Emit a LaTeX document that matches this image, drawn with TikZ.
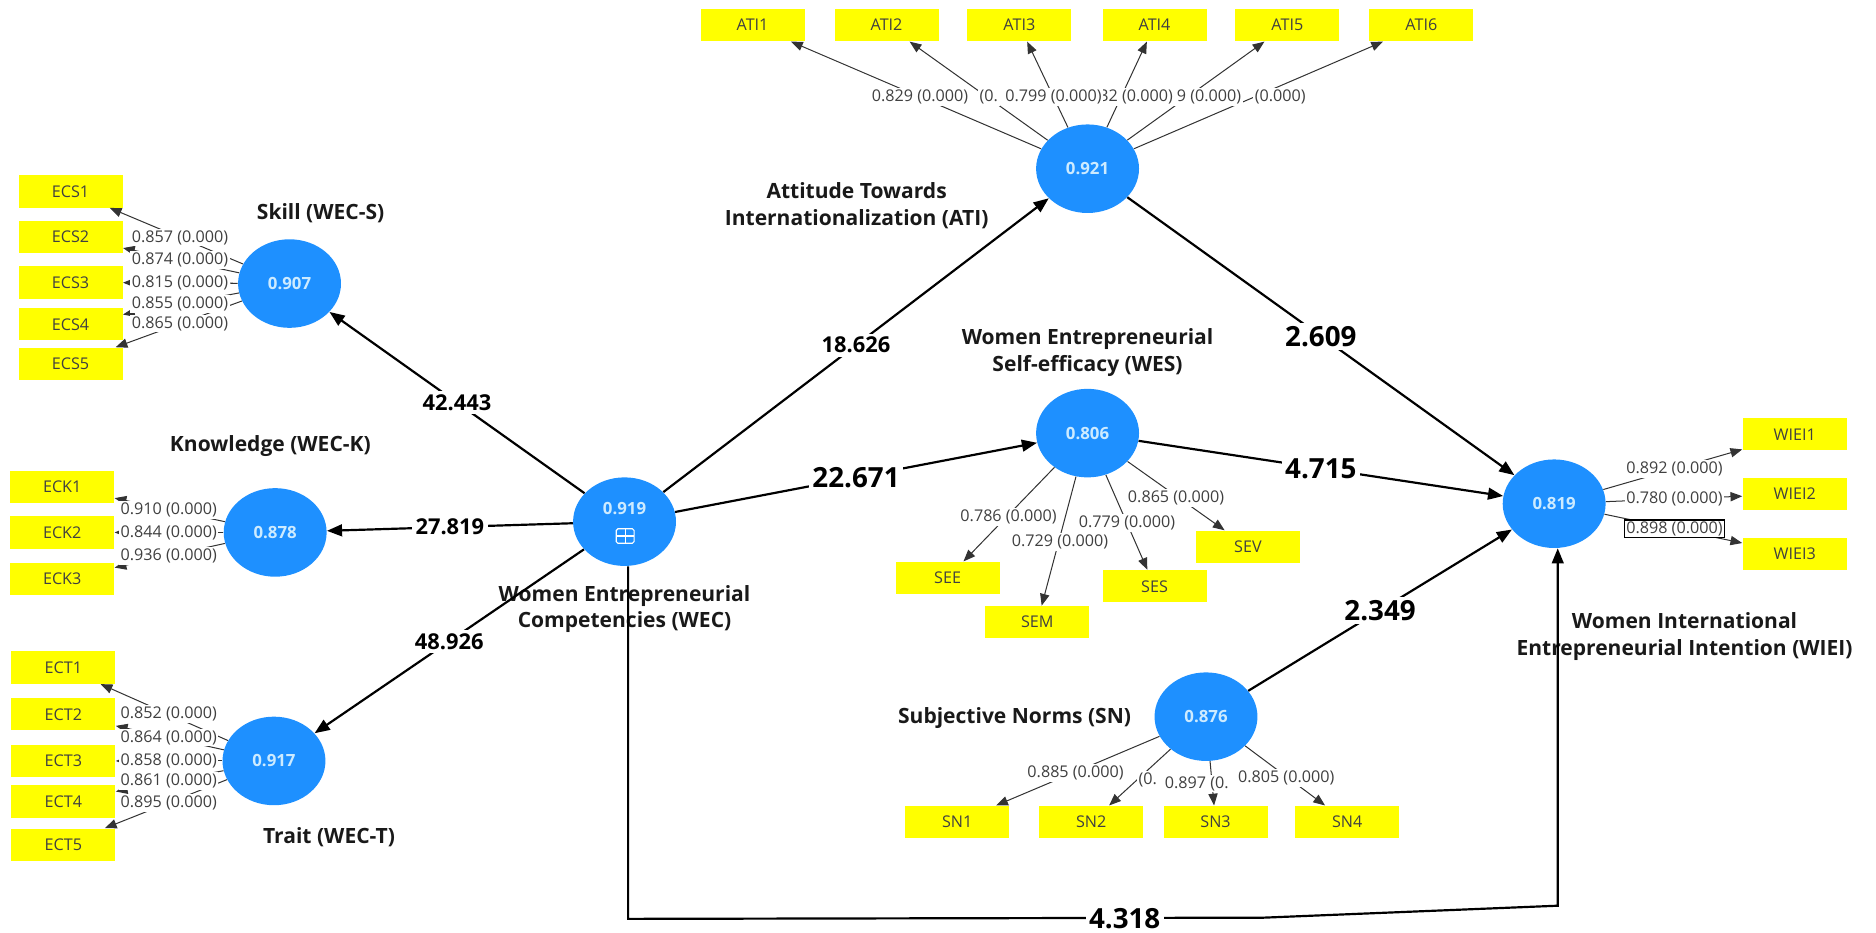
\documentclass[tikz,border=0pt]{standalone}
\usepackage{fontspec}
\setmainfont{Open Sans}
\usetikzlibrary{arrows.meta, shapes.geometric, calc}
\definecolor{plsblue}{RGB}{30,144,255}
\definecolor{plsyellow}{RGB}{255,255,0}
\definecolor{plsvalue}{RGB}{205,235,255}

\begin{document}
\begin{tikzpicture}[x=0.025cm, y=-0.025cm,
		construct/.style={ellipse, fill=plsblue, minimum width=2.15cm, minimum height=1.85cm, inner sep=0pt, text=plsvalue, font=\bfseries\fontsize{10}{12}\selectfont},
		indicator/.style={rectangle, fill=plsyellow, minimum width=2.175cm, minimum height=0.675cm, inner sep=0pt, text=black!75, font=\fontsize{9.6}{11}\selectfont},
		ctitle/.style={align=center, text=black!90, font=\bfseries\fontsize{12.5}{16}\selectfont},
		loading/.style={draw=black!80, line width=0.6pt, -{Triangle[length=7pt, width=5.5pt]}},
		structural/.style={draw=black, line width=1.3pt, -{Triangle[length=9pt, width=7pt]}},
		lbl/.style={fill=white, inner sep=1pt, text=black!75, font=\fontsize{9.6}{11}\selectfont},
		coef/.style={fill=white, inner sep=2pt, font=\bfseries\fontsize{13}{15}\selectfont},
		bigcoef/.style={coef, font=\bfseries\fontsize{16.5}{18}\selectfont}]
	\useasboundingbox (0,0) rectangle (1568,779);

	\node[construct] (skill) at (242,237) {0.907};
	\node[construct] (know) at (230,445) {0.878};
	\node[construct] (trait) at (229,636) {0.917};
	\node[construct] (wec) at (522,436) {};
	\node[construct] (ati) at (909,141) {0.921};
	\node[construct] (wes) at (909,362) {0.806};
	\node[construct] (wiei) at (1299,421) {0.819};
	\node[construct] (sn) at (1008,599) {0.876};
	\node[text=plsvalue, font=\bfseries\fontsize{10}{12}\selectfont] (wecval) at (522,425) {0.919};

	\node[indicator] (ecs1) at (59,160) {ECS1};
	\node[indicator] (ecs2) at (59,198) {ECS2};
	\node[indicator] (ecs3) at (59,236) {ECS3};
	\node[indicator] (ecs4) at (59,271) {ECS4};
	\node[indicator] (ecs5) at (59,304) {ECS5};
	\node[indicator] (eck1) at (52,407) {ECK1};
	\node[indicator] (eck2) at (52,445) {ECK2};
	\node[indicator] (eck3) at (52,484) {ECK3};
	\node[indicator] (ect1) at (53,558) {ECT1};
	\node[indicator] (ect2) at (53,597) {ECT2};
	\node[indicator] (ect3) at (53,636) {ECT3};
	\node[indicator] (ect4) at (53,670) {ECT4};
	\node[indicator] (ect5) at (53,706) {ECT5};
	\node[indicator] (ati1) at (629,21) {ATI1};
	\node[indicator] (ati2) at (741,21) {ATI2};
	\node[indicator] (ati3) at (852,21) {ATI3};
	\node[indicator] (ati4) at (965,21) {ATI4};
	\node[indicator] (ati5) at (1076,21) {ATI5};
	\node[indicator] (ati6) at (1188,21) {ATI6};
	\node[indicator] (see) at (792,483) {SEE};
	\node[indicator] (sem) at (867,520) {SEM};
	\node[indicator] (ses) at (965,490) {SES};
	\node[indicator] (sev) at (1043,457) {SEV};
	\node[indicator] (sn1) at (800,687) {SN1};
	\node[indicator] (sn2) at (912,687) {SN2};
	\node[indicator] (sn3) at (1016,687) {SN3};
	\node[indicator] (sn4) at (1126,687) {SN4};
	\node[indicator] (wiei1) at (1500,363) {WIEI1};
	\node[indicator] (wiei2) at (1500,413) {WIEI2};
	\node[indicator] (wiei3) at (1500,463) {WIEI3};

	\node[ctitle] (tskill) at (268,178) {Skill (WEC-S)};
	\node[ctitle] (tknow) at (226,373) {Knowledge (WEC-K)};
	\node[ctitle] (ttrait) at (275,700) {Trait (WEC-T)};
	\node[ctitle] (twec) at (522,509) {Women Entrepreneurial\\Competencies (WEC)};
	\node[ctitle] (tati) at (716,172) {Attitude Towards\\Internationalization (ATI)};
	\node[ctitle] (twes) at (909,295) {Women Entrepreneurial\\Self-efficacy (WES)};
	\node[ctitle] (tsn) at (848,600) {Subjective Norms (SN)};
	\node[ctitle] (twiei) at (1408,532) {Women International\\Entrepreneurial Intention (WIEI)};

	\draw[loading] (skill) -- (ecs1);
	\draw[loading] (skill) -- (ecs2);
	\draw[loading] (skill) -- (ecs3);
	\draw[loading] (skill) -- (ecs4);
	\draw[loading] (skill) -- (ecs5);
	\draw[loading] (know) -- (eck1);
	\draw[loading] (know) -- (eck2);
	\draw[loading] (know) -- (eck3);
	\draw[loading] (trait) -- (ect1);
	\draw[loading] (trait) -- (ect2);
	\draw[loading] (trait) -- (ect3);
	\draw[loading] (trait) -- (ect4);
	\draw[loading] (trait) -- (ect5);
	\draw[loading] (ati) -- (ati1);
	\draw[loading] (ati) -- (ati2);
	\draw[loading] (ati) -- (ati3);
	\draw[loading] (ati) -- (ati4);
	\draw[loading] (ati) -- (ati5);
	\draw[loading] (ati) -- (ati6);
	\draw[loading] (wes) -- (see);
	\draw[loading] (wes) -- (sem);
	\draw[loading] (wes) -- (ses);
	\draw[loading] (wes) -- (sev);
	\draw[loading] (sn) -- (sn1);
	\draw[loading] (sn) -- (sn2);
	\draw[loading] (sn) -- (sn3);
	\draw[loading] (sn) -- (sn4);
	\draw[loading] (wiei) -- (wiei1);
	\draw[loading] (wiei) -- (wiei2);
	\draw[loading] (wiei) -- (wiei3);

	\draw[structural] (wec) -- (skill);
	\draw[structural] (wec) -- (know);
	\draw[structural] (wec) -- (trait);
	\draw[structural] (wec) -- (ati);
	\draw[structural] (wec) -- (wes);
	\draw[structural] (ati) -- (wiei);
	\draw[structural] (wes) -- (wiei);
	\draw[structural] (sn) -- (wiei);
	\coordinate (bl) at (525,768);
	\coordinate (bm) at (1056,767);
	\coordinate (br) at (1302,757);
	\draw[structural] (bl |- wec.south) -- (bl) -- (bm) -- (br) -- (br |- wiei.south);

	\node[lbl] (lecs1) at ($(skill)!0.5!(ecs1)$) {0.857 (0.000)};
	\node[lbl] (lecs2) at ($(skill)!0.5!(ecs2)$) {0.874 (0.000)};
	\node[lbl] (lecs3) at ($(skill)!0.5!(ecs3)$) {0.815 (0.000)};
	\node[lbl] (lecs4) at ($(skill)!0.5!(ecs4)$) {0.855 (0.000)};
	\node[lbl] (lecs5) at ($(skill)!0.5!(ecs5)$) {0.865 (0.000)};
	\node[lbl] (leck1) at ($(know)!0.5!(eck1)$) {0.910 (0.000)};
	\node[lbl] (leck2) at ($(know)!0.5!(eck2)$) {0.844 (0.000)};
	\node[lbl] (leck3) at ($(know)!0.5!(eck3)$) {0.936 (0.000)};
	\node[lbl] (lect1) at ($(trait)!0.5!(ect1)$) {0.852 (0.000)};
	\node[lbl] (lect2) at ($(trait)!0.5!(ect2)$) {0.864 (0.000)};
	\node[lbl] (lect3) at ($(trait)!0.5!(ect3)$) {0.858 (0.000)};
	\node[lbl] (lect4) at ($(trait)!0.5!(ect4)$) {0.861 (0.000)};
	\node[lbl] (lect5) at ($(trait)!0.5!(ect5)$) {0.895 (0.000)};
	\node[lbl, anchor=east] (lati6) at (1093,81) {(0.000)};
	\node[lbl, anchor=east] (lati5) at (1039,81) {9 (0.000)};
	\node[lbl, anchor=east] (lati4) at (982,81) {32 (0.000)};
	\node[lbl, anchor=west] (lati2) at (817,81) {(0.};
	\node[lbl] (lati1) at ($(ati)!0.5!(ati1)$) {0.829 (0.000)};
	\node[lbl] (lati3) at ($(ati)!0.5!(ati3)$) {0.799 (0.000)};
	\node[lbl] (lsee) at (843,432) {0.786 (0.000)};
	\node[lbl] (lsem) at (886,453) {0.729 (0.000)};
	\node[lbl] (lses) at (942,437) {0.779 (0.000)};
	\node[lbl] (lsev) at (983,416) {0.865 (0.000)};
	\node[lbl, anchor=west] (lsn2) at (950,652) {(0.};
	\node[lbl, anchor=west] (lsn3) at (972,655) {0.897 (0.};
	\node[lbl] (lsn1) at (899,646) {0.885 (0.000)};
	\node[lbl] (lsn4) at (1075,650) {0.805 (0.000)};
	\node[lbl] (lwiei1) at ($(wiei)!0.5!(wiei1)$) {0.892 (0.000)};
	\node[lbl] (lwiei2) at ($(wiei)!0.5!(wiei2)$) {0.780 (0.000)};
	\node[lbl, draw=black, line width=0.8pt] (lwiei3) at ($(wiei)!0.5!(wiei3)$) {0.898 (0.000)};

	\node[coef] (c1) at ($(wec)!0.5!(skill)$) {42.443};
	\node[coef] (c2) at ($(wec)!0.5!(know)$) {27.819};
	\node[coef] (c3) at ($(wec)!0.5!(trait)$) {48.926};
	\node[coef] (c4) at ($(wec)!0.5!(ati)$) {18.626};
	\node[bigcoef] (c5) at ($(wec)!0.5!(wes)$) {22.671};
	\node[bigcoef] (c6) at ($(ati)!0.5!(wiei)$) {2.609};
	\node[bigcoef] (c7) at ($(wes)!0.5!(wiei)$) {4.715};
	\node[bigcoef] (c8) at ($(sn)!0.5!(wiei)$) {2.349};
	\node[bigcoef] (c9) at (940,768) {4.318};

	\draw[white, line width=0.7pt, rounded corners=1pt] (515,442) rectangle (530,454);
	\draw[white, line width=0.7pt] (522.5,442) -- (522.5,454) (515,448) -- (530,448);
\end{tikzpicture}
\end{document}
